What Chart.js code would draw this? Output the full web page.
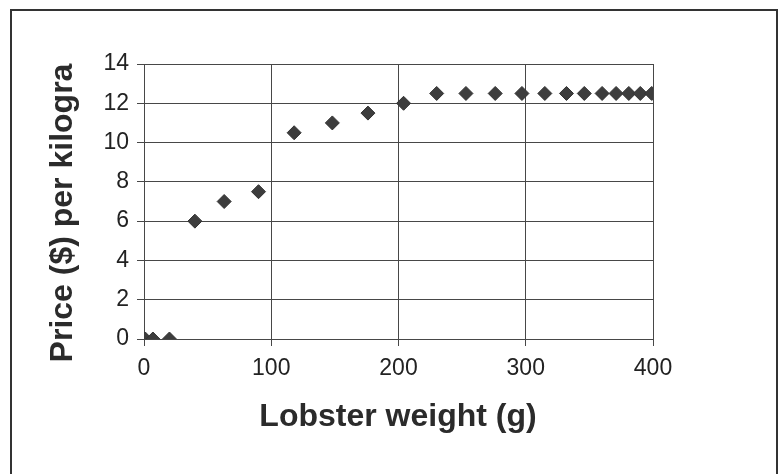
<!DOCTYPE html>
<html>
<head>
<meta charset="utf-8">
<script src="https://cdn.jsdelivr.net/npm/chart.js@4.4.1/dist/chart.umd.min.js"></script>
<style>
  html, body { margin: 0; padding: 0; background: #fff; }
  #wrap { position: absolute; left: 0; top: 0; width: 781px; height: 474px; }
</style>
</head>
<body>
<div id="wrap"><canvas id="chart" width="781" height="474"></canvas></div>
<script>
// Lobster weight (g) and price per kilogram ($)
const weights = [1, 7, 20, 40, 63, 90, 118, 148, 176, 204, 230, 253, 276, 297, 315, 332, 346, 360, 371, 381, 390, 399];
const prices  = [0, 0, 0, 6, 7, 7.5, 10.5, 11, 11.5, 12, 12.5, 12.5, 12.5, 12.5, 12.5, 12.5, 12.5, 12.5, 12.5, 12.5, 12.5, 12.5];
const xTitle = 'Lobster weight (g)';
const yTitle = 'Price ($) per kilogra';

const gridColor = '#474747';
const tickFont = { family: "'Liberation Sans', Arial, sans-serif", size: 23 };
const titleFont = "bold 32px 'Liberation Sans', Arial, sans-serif";

// frame around the chart and the two axis titles
const decor = {
  id: 'decor',
  beforeDraw(chart) {
    const ctx = chart.ctx;
    ctx.save();
    ctx.fillStyle = '#fff';
    ctx.fillRect(0, 0, chart.width, chart.height);
    ctx.strokeStyle = '#333';
    ctx.lineWidth = 2;
    ctx.strokeRect(11, 10, 766, 490);
    ctx.restore();
  },
  afterDraw(chart) {
    const ctx = chart.ctx;
    ctx.save();
    ctx.fillStyle = '#2b2b2b';
    ctx.font = titleFont;
    ctx.textBaseline = 'alphabetic';
    ctx.textAlign = 'center';
    ctx.fillText(xTitle, 398, 426);
    ctx.translate(72, 213);
    ctx.rotate(-Math.PI / 2);
    ctx.fillText(yTitle, 0, 0);
    ctx.restore();
  }
};

new Chart(document.getElementById('chart'), {
  type: 'scatter',
  data: {
    datasets: [{
      data: weights.map((w, i) => ({ x: w, y: prices[i] })),
      pointStyle: 'rectRot',
      pointRadius: 7,
      pointHoverRadius: 7,
      backgroundColor: '#3d3d3d',
      borderColor: '#333',
      borderWidth: 1
    }]
  },
  options: {
    responsive: false,
    animation: false,
    events: [],
    layout: { padding: { left: 0, top: 64, right: 128, bottom: 0 } },
    plugins: { legend: { display: false }, tooltip: { enabled: false } },
    scales: {
      x: {
        type: 'linear',
        min: 0, max: 400,
        ticks: { stepSize: 100, color: '#222', font: tickFont, padding: 9, maxRotation: 0 },
        grid: { color: gridColor, lineWidth: 1, tickLength: 7, tickColor: gridColor },
        border: { color: gridColor, width: 1 },
        afterFit(scale) { scale.height = 474 - 339; }
      },
      y: {
        type: 'linear',
        min: 0, max: 14,
        ticks: { stepSize: 2, color: '#222', font: tickFont, padding: 8 },
        grid: { color: gridColor, lineWidth: 1, tickLength: 7, tickColor: gridColor },
        border: { color: gridColor, width: 1 },
        afterFit(scale) { scale.width = 144; }
      }
    }
  },
  plugins: [decor]
});
</script>
</body>
</html>
